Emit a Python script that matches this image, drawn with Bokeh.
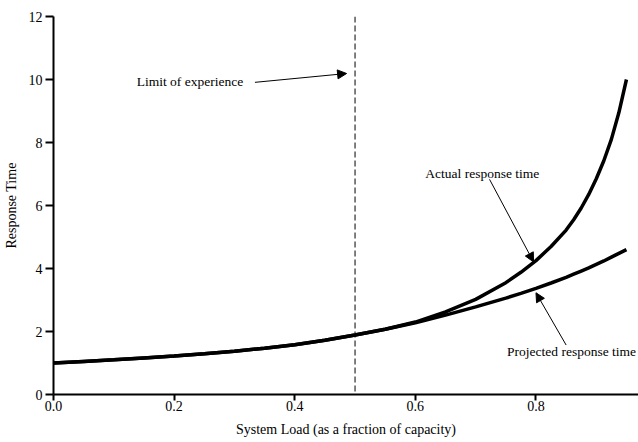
from bokeh.plotting import figure
from bokeh.models import Range1d, Arrow, NormalHead, Label, Span, FixedTicker
from bokeh.embed import file_html
from bokeh.resources import INLINE

# ---- data ----
load = [0.0, 0.05, 0.1, 0.15, 0.2, 0.25, 0.3, 0.35, 0.4, 0.45, 0.5, 0.55, 0.6,
        0.65, 0.7, 0.75, 0.775, 0.8, 0.825, 0.85, 0.8625, 0.875, 0.8875, 0.9,
        0.9125, 0.925, 0.9375, 0.95]
projected = [1.0, 1.05, 1.1, 1.16, 1.22, 1.29, 1.37, 1.47, 1.58, 1.72, 1.89, 2.07, 2.28,
             2.52, 2.78, 3.06, 3.21, 3.37, 3.54, 3.72, 3.82, 3.92, 4.02, 4.13,
             4.24, 4.36, 4.48, 4.6]
actual = [1.0, 1.05, 1.1, 1.16, 1.22, 1.29, 1.37, 1.47, 1.58, 1.72, 1.89, 2.07, 2.30,
          2.62, 3.02, 3.55, 3.88, 4.25, 4.70, 5.22, 5.55, 5.92, 6.35, 6.85,
          7.42, 8.1, 8.95, 10.0]
x_ticks = [0.0, 0.2, 0.4, 0.6, 0.8]
y_ticks = [0, 2, 4, 6, 8, 10, 12]
limit_x = 0.5

FONT = "Liberation Serif"

p = figure(width=638, height=440, output_backend="svg", toolbar_location=None,
           x_range=Range1d(0, 0.970), y_range=Range1d(0, 12),
           min_border_left=52, min_border_top=16, min_border_right=0, min_border_bottom=46)
p.outline_line_color = None
p.grid.visible = False
p.background_fill_color = "white"
p.border_fill_color = "white"

for ax in (p.xaxis[0], p.yaxis[0]):
    ax.axis_line_color = "black"
    ax.axis_line_width = 2
    ax.major_tick_line_color = "black"
    ax.major_tick_line_width = 2
    ax.major_tick_in = 0
    ax.minor_tick_line_color = None
    ax.major_label_text_font = FONT
    ax.major_label_text_font_size = "14px"
    ax.major_label_text_color = "black"
    ax.axis_label_text_font = FONT
    ax.axis_label_text_font_size = "14px"
    ax.axis_label_text_font_style = "normal"
    ax.axis_label_text_color = "black"

p.xaxis.ticker = FixedTicker(ticks=x_ticks)
p.yaxis.ticker = FixedTicker(ticks=y_ticks)
p.xaxis.major_label_overrides = {t: f"{t:.1f}" for t in x_ticks}
p.xaxis.axis_label = "System Load (as a fraction of capacity)"
p.yaxis.axis_label = "Response Time"
p.xaxis.major_tick_out = 6
p.xaxis.major_label_standoff = 0
p.xaxis.axis_label_standoff = 8
p.yaxis.major_tick_out = 8
p.yaxis.major_label_standoff = 3
p.yaxis.axis_label_standoff = 7

p.add_layout(Span(location=limit_x, dimension="height", line_color="black",
                  line_width=1, line_dash="6 3"))

p.line(load, actual, line_color="black", line_width=3.5)
p.line(load, projected, line_color="black", line_width=3.5)

def arrow(x0, y0, x1, y1):
    p.add_layout(Arrow(end=NormalHead(size=9, fill_color="black", line_color="black", line_width=1),
                       x_start=x0, y_start=y0, x_end=x1, y_end=y1,
                       line_color="black", line_width=1))

def label(x, y, txt, align):
    p.add_layout(Label(x=x, y=y, text=txt, text_font=FONT, text_font_size="13.5px",
                       text_color="black", text_align=align, text_baseline="middle"))

label(0.138, 9.93, "Limit of experience", "left")
arrow(0.334, 9.91, 0.486, 10.19)
label(0.711, 7.02, "Actual response time", "center")
arrow(0.723, 6.83, 0.796, 4.21)
label(0.859, 1.38, "Projected response time", "center")
arrow(0.850, 1.57, 0.800, 3.23)

open("out.html", "w").write(file_html(p, INLINE))
